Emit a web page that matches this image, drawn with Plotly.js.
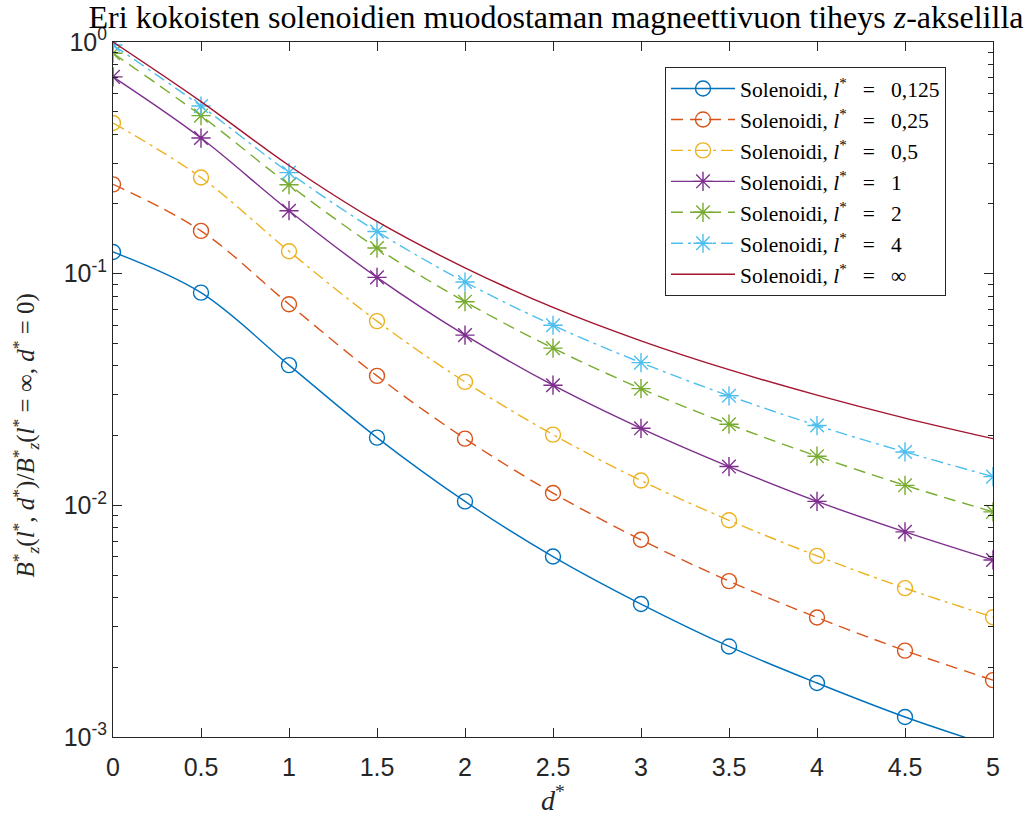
<!DOCTYPE html>
<html>
<head>
<meta charset="utf-8">
<script src="https://cdn.plot.ly/plotly-3.0.1.min.js"></script>
<style>
  html, body { margin: 0; padding: 0; background: #fff; }
  #chart { width: 1031px; height: 816px; }
</style>
</head>
<body>
<div id="chart"></div>
<script>
// distance d* along the z-axis (marker positions)
const dStar = [0, 0.5, 1, 1.5, 2, 2.5, 3, 3.5, 4, 4.5, 5];

// normalised field B*_z(l*, d*) / B*_z(l* = inf, d* = 0)
const b_0125 = [0.124, 0.0828, 0.0403, 0.0196, 0.0104, 0.00601, 0.00375, 0.00246, 0.00171, 0.00122, 0.00091];
const b_025  = [0.243, 0.153, 0.0738, 0.0362, 0.0194, 0.0113, 0.0071, 0.00471, 0.00328, 0.00236, 0.00176];
const b_05   = [0.447, 0.260, 0.125, 0.0624, 0.0341, 0.0202, 0.0128, 0.00862, 0.00605, 0.00439, 0.00329];
const b_1    = [0.707, 0.385, 0.187, 0.0964, 0.0543, 0.0330, 0.0215, 0.0147, 0.0104, 0.00768, 0.00581];
const b_2    = [0.894, 0.481, 0.242, 0.129, 0.0757, 0.0477, 0.0319, 0.0224, 0.0163, 0.0122, 0.00937];
const b_4    = [0.970, 0.529, 0.273, 0.152, 0.0920, 0.0599, 0.0413, 0.0297, 0.0221, 0.0170, 0.0133];
const b_inf  = [1.0, 0.553, 0.293, 0.168, 0.106, 0.0715, 0.0513, 0.0385, 0.0299, 0.0238, 0.0194];

const seriesNames = ['0,125', '0,25', '0,5', '1', '2', '4', '∞'];
const seriesValues = [b_0125, b_025, b_05, b_1, b_2, b_4, b_inf];

const yTickVals = [0.001, 0.01, 0.1, 1];
const yTickText = ['10<sup>-3</sup>', '10<sup>-2</sup>', '10<sup>-1</sup>', '10<sup>0</sup>'];
const xTickVals = [0, 0.5, 1, 1.5, 2, 2.5, 3, 3.5, 4, 4.5, 5];
const xTickText = ['0', '0.5', '1', '1.5', '2', '2.5', '3', '3.5', '4', '4.5', '5'];

const colors = ['#0072BD', '#D95319', '#EDB120', '#7E2F8E', '#77AC30', '#4DBEEE', '#A2142F'];
const dashes = ['solid', '12px,7px', '12px,5px,3px,5px', 'solid', '12px,7px', '12px,5px,3px,5px', 'solid'];
const symbols = ['circle-open', 'circle-open', 'circle-open', 'asterisk-open', 'asterisk-open', 'asterisk-open', null];

const serif = 'Liberation Serif, DejaVu Serif, serif';
const sans = 'Liberation Sans, Arial, sans-serif';
const gap = '\u00A0\u00A0 ';

const traces = seriesValues.map((vals, i) => {
  const t = {
    x: dStar,
    y: vals,
    type: 'scatter',
    name: 'Solenoidi, <i>l</i><sup>*</sup>' + gap + '=' + gap + seriesNames[i],
    line: { color: colors[i], width: 1.4, dash: dashes[i], shape: 'spline', smoothing: 1 },
    mode: symbols[i] ? 'lines+markers' : 'lines'
  };
  if (symbols[i]) {
    t.marker = {
      symbol: symbols[i],
      size: symbols[i] === 'circle-open' ? 15 : 16,
      color: colors[i],
      line: { color: colors[i], width: 1.4 }
    };
  }
  return t;
});

const layout = {
  width: 1031,
  height: 816,
  margin: { l: 113, r: 38, t: 42, b: 79 },
  paper_bgcolor: '#ffffff',
  plot_bgcolor: '#ffffff',
  showlegend: true,
  title: {
    text: 'Eri kokoisten solenoidien muodostaman magneettivuon tiheys <i>z</i>-akselilla',
    font: { family: serif, size: 32, color: '#000000' },
    x: 556 / 1031,
    xanchor: 'center',
    xref: 'container',
    y: 1 - 16.5 / 816,
    yanchor: 'middle',
    yref: 'container'
  },
  xaxis: {
    range: [0, 5],
    tickvals: xTickVals,
    ticktext: xTickText,
    ticks: 'inside',
    ticklen: 9,
    tickwidth: 1,
    tickcolor: '#262626',
    showline: true,
    linecolor: '#262626',
    linewidth: 1,
    mirror: 'ticks',
    showgrid: false,
    zeroline: false,
    ticklabelstandoff: 8,
    tickfont: { family: sans, size: 25, color: '#262626' },
    title: {
      text: '<i>d</i><sup>*</sup>',
      font: { family: serif, size: 28, color: '#262626' },
      standoff: 6
    }
  },
  yaxis: {
    type: 'log',
    range: [-3, 0],
    tickvals: yTickVals,
    ticktext: yTickText,
    ticks: 'inside',
    ticklen: 9,
    tickwidth: 1,
    tickcolor: '#262626',
    showline: true,
    linecolor: '#262626',
    linewidth: 1,
    mirror: 'ticks',
    showgrid: false,
    zeroline: false,
    tickfont: { family: sans, size: 25, color: '#262626' },
    minor: { dtick: 'D1', ticks: 'inside', ticklen: 5, tickcolor: '#262626', showgrid: false }
  },
  annotations: [{
    text: '<i>B</i><sup>*</sup><sub><i>z</i></sub>(<i>l</i><sup>*</sup>, <i>d</i><sup>*</sup>)/<i>B</i><sup>*</sup><sub><i>z</i></sub>(<i>l</i><sup>*</sup> = ∞, <i>d</i><sup>*</sup> = 0)',
    font: { family: serif, size: 25, color: '#262626' },
    textangle: -90,
    showarrow: false,
    xref: 'paper',
    yref: 'paper',
    x: (26 - 113) / 880,
    y: 0.5 - 46 / 695,
    xanchor: 'center',
    yanchor: 'middle'
  }],
  legend: {
    x: (665 - 113) / 880,
    xanchor: 'left',
    y: (737 - 67) / 695,
    yanchor: 'top',
    bgcolor: '#ffffff',
    bordercolor: '#262626',
    borderwidth: 1,
    font: { family: serif, size: 21.5, color: '#000000' },
    tracegroupgap: 0,
    itemwidth: 64
  }
};

Plotly.newPlot('chart', traces, layout, { displayModeBar: false, staticPlot: true });
</script>
</body>
</html>
